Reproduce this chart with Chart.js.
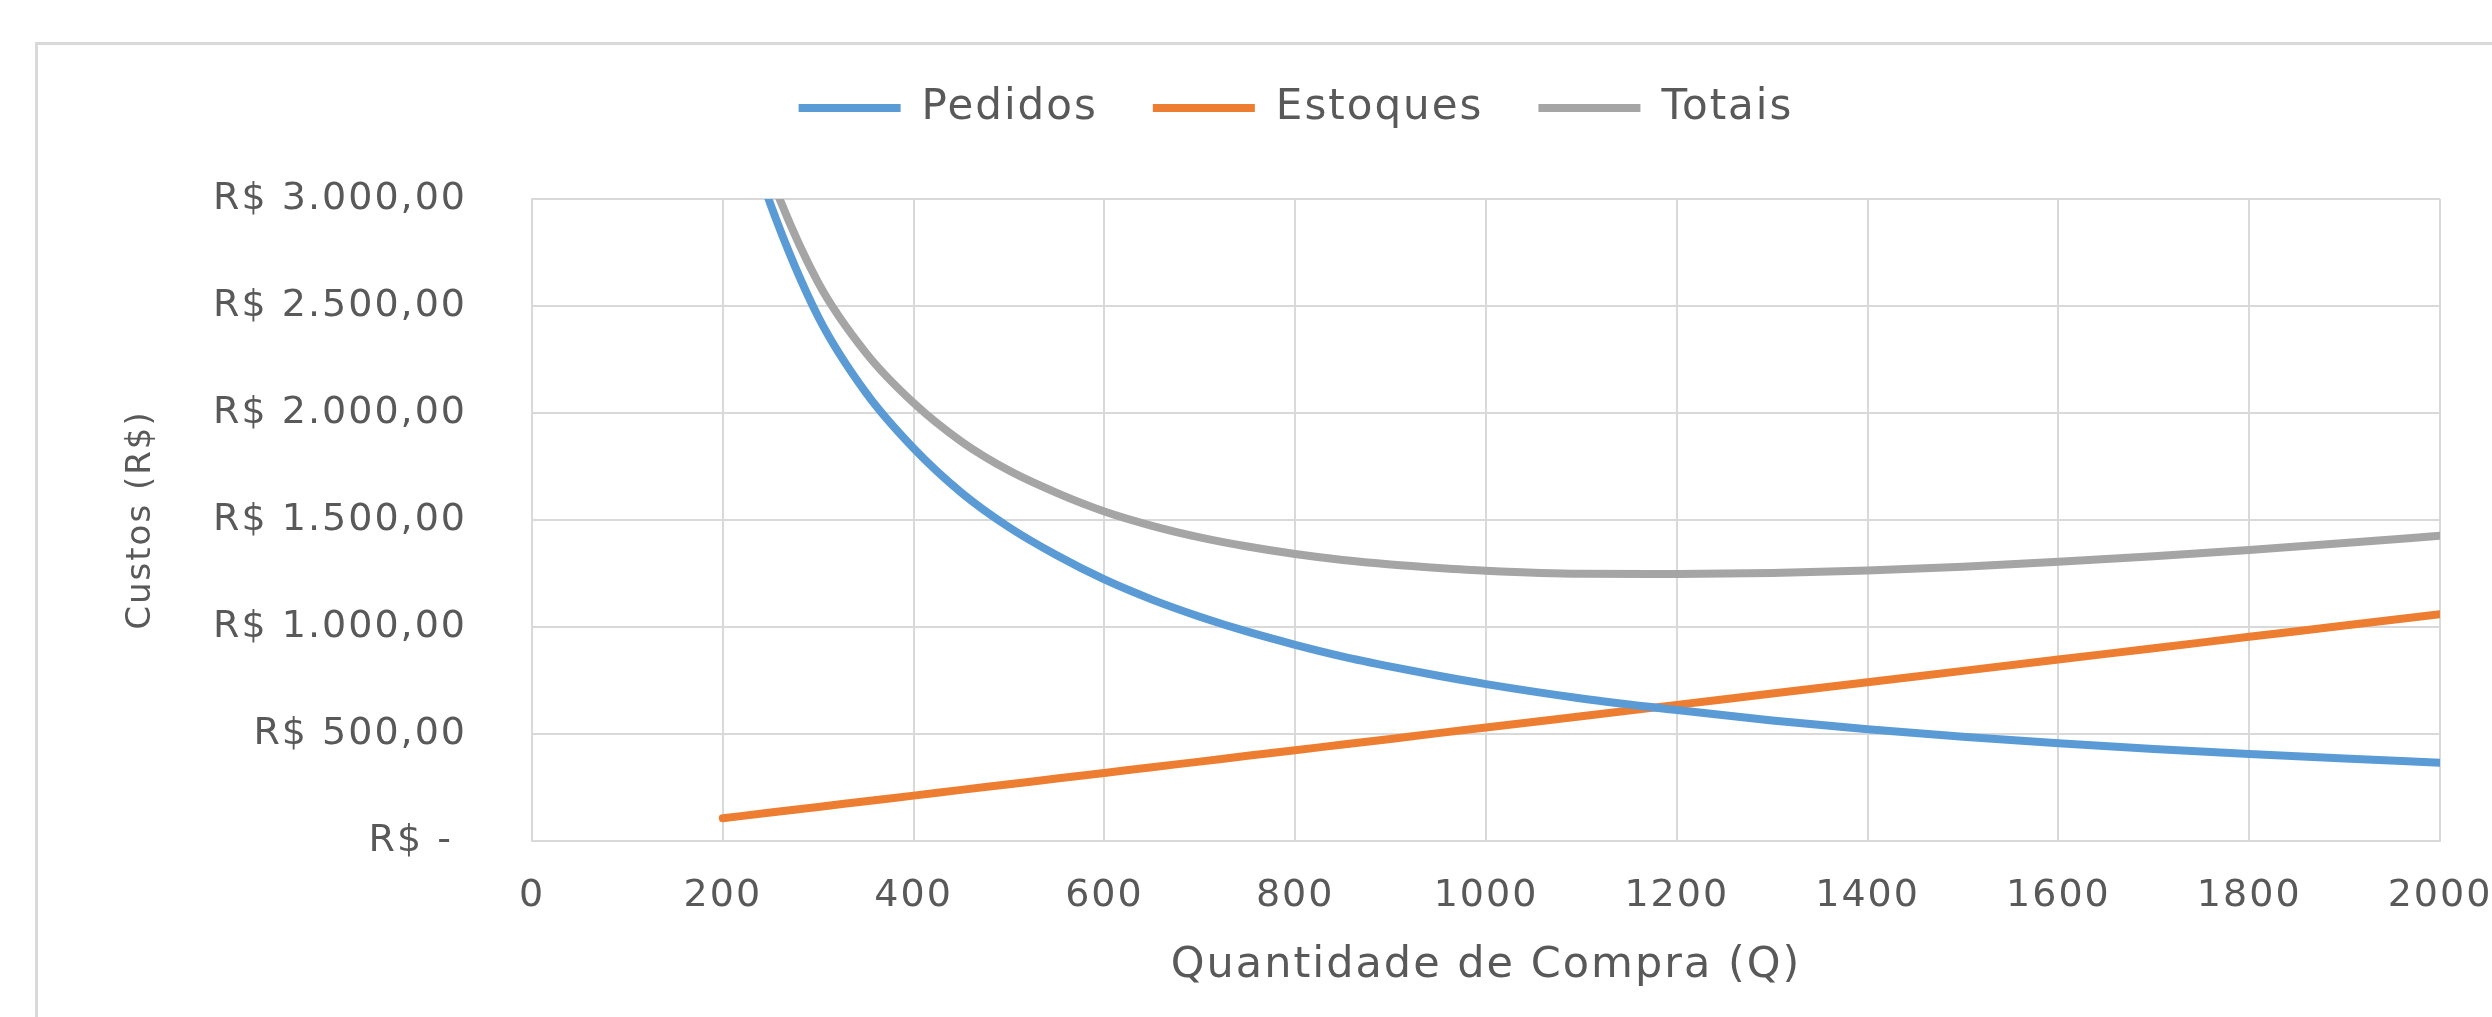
<!DOCTYPE html>
<html>
<head>
<meta charset="utf-8">
<script src="https://cdn.jsdelivr.net/npm/chart.js@4/dist/chart.umd.min.js"></script>
<style>
  html, body { margin: 0; padding: 0; background: #fff; overflow: hidden; width: 2492px; height: 1017px; }
  #frame { position: absolute; left: 35px; top: 42px; width: 3000px; height: 2000px;
           border-left: 3px solid #d9d9d9; border-top: 3px solid #d9d9d9; }
  #chart { position: absolute; left: 0; top: 0; }
</style>
</head>
<body>
<div id="frame"></div>
<canvas id="chart" width="2592" height="1017"></canvas>
<script>
// Quantidade de compra (Q) and the costs
const quantidades = [200, 250, 300, 350, 400, 450, 500, 550, 600, 650, 700, 750, 800, 850, 900, 950, 1000,
                     1100, 1200, 1300, 1400, 1500, 1600, 1700, 1800, 1900, 2000];
const pedidos  = [3660, 2975, 2450, 2095, 1835, 1628, 1466, 1335, 1222, 1128, 1048, 978, 917, 862, 815, 772, 733,
                  666, 612, 563, 522, 487, 457, 430, 406, 385, 366];
const estoques = [106, 133, 159, 186, 212, 239, 265, 292, 318, 345, 371, 398, 424, 451, 477, 504, 530,
                  583, 636, 689, 742, 795, 848, 901, 954, 1007, 1060];
const totais   = [3766, 3108, 2609, 2281, 2047, 1867, 1731, 1627, 1540, 1473, 1419, 1376, 1341, 1313, 1292, 1276, 1263,
                  1249, 1248, 1252, 1264, 1282, 1305, 1331, 1360, 1392, 1426];

const seriesNames = ["Pedidos", "Estoques", "Totais"];
const xTitle = "Quantidade de Compra (Q)";
const yTitle = "Custos (R$)";

const colors = {
  blue: "#5B9BD5",
  orange: "#ED7D31",
  grey: "#A5A5A5",
  text: "#595959",
  grid: "#d9d9d9",
};

const toPoints = (values) => values.map((v, i) => ({ x: quantidades[i], y: v }));

const brl = (v) => {
  if (v === 0) return "R$ - ";
  const s = String(v).replace(/\B(?=(\d{3})+(?!\d))/g, ".");
  return "R$ " + s + ",00";
};

// excel text looks spaced out, so widen the letters a bit
const spacing = {
  id: "spacing",
  beforeLayout(chart) { chart.ctx.letterSpacing = "2px"; },
  beforeDraw(chart) { chart.ctx.letterSpacing = "2px"; },
};

const lineSet = (label, values, color) => ({
  label: label,
  data: toPoints(values),
  borderColor: color,
  backgroundColor: color,
  borderWidth: 8,
  borderCapStyle: "round",
  pointRadius: 0,
  cubicInterpolationMode: "monotone",
  clip: 0,
});

const ctx = document.getElementById("chart");
new Chart(ctx, {
  type: "line",
  data: {
    datasets: [
      lineSet(seriesNames[0], pedidos, colors.blue),
      lineSet(seriesNames[1], estoques, colors.orange),
      lineSet(seriesNames[2], totais, colors.grey),
    ],
  },
  plugins: [spacing],
  options: {
    responsive: false,
    animation: false,
    layout: { padding: { top: 32, left: 0, right: 0, bottom: 0 } },
    plugins: {
      legend: {
        position: "top",
        labels: {
          usePointStyle: true,
          pointStyle: "line",
          pointStyleWidth: 102,
          padding: 55,
          color: colors.text,
          font: { family: "DejaVu Sans", size: 42 },
        },
      },
      tooltip: { enabled: false },
    },
    scales: {
      x: {
        type: "linear",
        position: "bottom",
        min: 0,
        max: 2000,
        afterFit: (scale) => { scale.height = 176; },
        grid: { color: colors.grid, lineWidth: 2, drawTicks: false },
        border: { color: colors.grid, width: 2 },
        ticks: {
          stepSize: 200,
          padding: 32,
          color: colors.text,
          font: { family: "DejaVu Sans", size: 38 },
          callback: (v) => String(v),
        },
        title: {
          display: true,
          text: xTitle,
          color: colors.text,
          font: { family: "DejaVu Sans", size: 43 },
          padding: { top: 0, bottom: 25 },
        },
      },
      y: {
        type: "linear",
        position: "left",
        min: 0,
        max: 3000,
        afterFit: (scale) => { scale.width = 532; },
        grid: { color: colors.grid, lineWidth: 2, drawTicks: false },
        border: { color: colors.grid, width: 2 },
        ticks: {
          stepSize: 500,
          padding: 65,
          color: colors.text,
          font: { family: "DejaVu Sans", size: 38 },
          callback: (v) => brl(v),
        },
        title: {
          display: true,
          text: yTitle,
          color: colors.text,
          font: { family: "DejaVu Sans", size: 34 },
          padding: { top: 121, bottom: 0 },
        },
      },
      // empty boxes: room under the legend and to the right of the plot
      gapTop: {
        type: "linear",
        position: "top",
        afterFit: (scale) => { scale.height = 60; },
        grid: { display: false },
        border: { display: false },
        ticks: { display: false },
      },
      gapRight: {
        type: "linear",
        position: "right",
        afterFit: (scale) => { scale.width = 152; },
        grid: { display: false },
        border: { display: false },
        ticks: { display: false },
      },
    },
  },
});
</script>
</body>
</html>
